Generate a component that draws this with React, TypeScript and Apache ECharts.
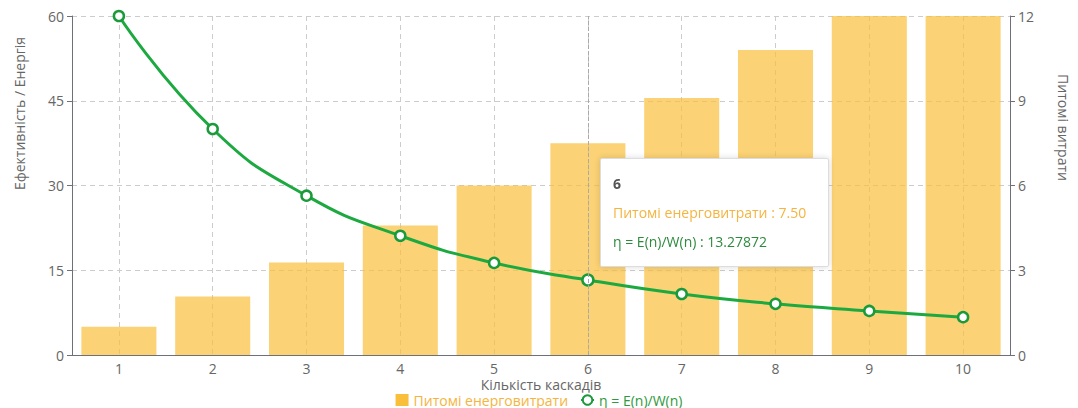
import React, { useEffect, useRef } from "react";
import * as echarts from "echarts";

// Number of cascades
const cascades = ["1", "2", "3", "4", "5", "6", "7", "8", "9", "10"];
// Specific energy consumption W(n)
const specificCost = [1.0, 2.07, 3.27, 4.58, 6.0, 7.5, 9.1, 10.8, 12.6, 14.5];
// Efficiency η = E(n)/W(n)
const efficiency = [60, 40, 28.2, 21.1, 16.3, 13.27872, 10.8, 9.05, 7.8, 6.7];

const leftTicks = { min: 0, max: 60, interval: 15 };
const rightTicks = { min: 0, max: 12, interval: 3 };

const barName = "Питомі енерговитрати";
const lineName = "η = E(n)/W(n)";

const FONT = "'Open Sans', 'Noto Sans', sans-serif";
const AXIS_TEXT = "#666666";
const BAR_COLOR = "#F9BF3B";
const LINE_COLOR = "#1A9A3A";

export default function App() {
  const ref = useRef<HTMLDivElement>(null);

  useEffect(() => {
    document.body.style.margin = "0";
    if (!ref.current) return;
    const chart = echarts.init(ref.current, undefined, { renderer: "svg" });

    const axisLabel = { color: AXIS_TEXT, fontSize: 14, lineHeight: 14, fontFamily: FONT };
    const nameStyle = { color: AXIS_TEXT, fontSize: 14, lineHeight: 14, fontFamily: FONT };
    const dashed = { show: true, lineStyle: { type: [5, 4], color: "#cccccc" } };

    chart.setOption({
      animation: false,
      textStyle: { fontFamily: FONT },
      grid: { left: 72, right: 63, top: 16, bottom: 53 },
      tooltip: {
        trigger: "axis",
        alwaysShowContent: true,
        position: [600, 158],
        backgroundColor: "#ffffff",
        borderColor: "#dddddd",
        borderWidth: 1,
        padding: [10, 22, 10, 12],
        extraCssText: "box-shadow: 0 0 6px rgba(0,0,0,0.15); border-radius: 2px;",
        axisPointer: { type: "line", lineStyle: { color: "#aaaaaa", width: 1 } },
        formatter: (params: any[]) => {
          const idx = params[0].dataIndex;
          const lines = [
            `<div style="color:#555;font-weight:bold">${cascades[idx]}</div>`,
            `<div style="color:#F5B440">${barName} : ${specificCost[idx].toFixed(2)}</div>`,
            `<div style="color:#2E8B3E">${lineName} : ${efficiency[idx]}</div>`,
          ];
          return `<div style="font-family:${FONT};font-size:14px;line-height:29px">${lines.join("")}</div>`;
        },
      },
      legend: {
        top: 393,
        left: "center",
        padding: 0,
        itemGap: 12,
        itemWidth: 13,
        itemHeight: 12,
        textStyle: { fontSize: 14, lineHeight: 14, fontFamily: FONT },
        data: [
          { name: barName, icon: "rect", itemStyle: { color: BAR_COLOR, opacity: 1 }, textStyle: { color: "#F5B440" } },
          { name: lineName, textStyle: { color: "#2E9A3E" } },
        ],
      },
      xAxis: {
        type: "category",
        data: cascades,
        boundaryGap: true,
        name: "Кількість каскадів",
        nameLocation: "middle",
        nameMoveOverlap: false,
        nameGap: 22,
        nameTextStyle: nameStyle,
        axisLine: { lineStyle: { color: "#6E7079" } },
        axisTick: { alignWithLabel: true },
        axisLabel: { ...axisLabel, margin: 6 },
        splitLine: { ...dashed, alignWithLabel: true },
      },
      yAxis: [
        {
          type: "value",
          ...leftTicks,
          name: "Ефективність / Енергія",
          nameLocation: "middle",
          nameMoveOverlap: false,
          nameGap: 46,
          nameTextStyle: { ...nameStyle, padding: [0, 0, 0, 144] },
          axisLine: { show: true, lineStyle: { color: "#6E7079" } },
          axisTick: { show: true },
          axisLabel,
          splitLine: dashed,
        },
        {
          type: "value",
          ...rightTicks,
          position: "right",
          name: "Питомі витрати",
          nameLocation: "middle",
          nameMoveOverlap: false,
          nameRotate: -90,
          nameGap: 46,
          nameTextStyle: { ...nameStyle, padding: [0, 116, 0, 0] },
          axisLine: { show: true, lineStyle: { color: "#6E7079" } },
          axisTick: { show: true },
          axisLabel,
          splitLine: { show: false },
        },
      ],
      series: [
        {
          name: barName,
          type: "bar",
          yAxisIndex: 1,
          barCategoryGap: "20%",
          data: specificCost,
          itemStyle: { color: BAR_COLOR, opacity: 0.7 },
          emphasis: { disabled: true },
        },
        {
          name: lineName,
          type: "line",
          yAxisIndex: 0,
          smooth: true,
          data: efficiency,
          symbol: "circle",
          symbolSize: 10,
          lineStyle: { color: LINE_COLOR, width: 3 },
          itemStyle: { color: "#ffffff", borderColor: LINE_COLOR, borderWidth: 2.5 },
          z: 5,
        },
      ],
    });

    chart.dispatchAction({ type: "showTip", seriesIndex: 1, dataIndex: 5 });

    return () => chart.dispose();
  }, []);

  return <div ref={ref} style={{ width: 1078, height: 408 }} />;
}
